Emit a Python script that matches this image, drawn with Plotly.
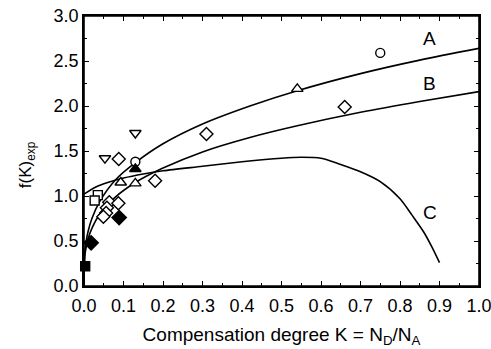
import plotly.graph_objects as go

# Model curves f(K) vs compensation degree K
k_a = [0.0, 0.002, 0.005, 0.01, 0.02, 0.04, 0.08, 0.13, 0.2, 0.3, 0.42, 0.54, 0.7, 0.85, 1.0]
f_a = [0.0, 0.36, 0.48, 0.60, 0.75, 0.94, 1.18, 1.37, 1.58, 1.80, 2.00, 2.17, 2.36, 2.51, 2.64]

k_b = [0.0, 0.002, 0.005, 0.01, 0.02, 0.04, 0.08, 0.13, 0.2, 0.3, 0.42, 0.54, 0.7, 0.85, 1.0]
f_b = [0.0, 0.33, 0.42, 0.52, 0.64, 0.80, 0.99, 1.15, 1.31, 1.49, 1.65, 1.78, 1.93, 2.05, 2.16]

k_c = [0.0, 0.03, 0.06, 0.1, 0.15, 0.2, 0.3, 0.4, 0.5, 0.55, 0.6, 0.65, 0.7, 0.75, 0.8, 0.83, 0.86, 0.88, 0.9]
f_c = [1.02, 1.10, 1.15, 1.20, 1.245, 1.28, 1.33, 1.38, 1.42, 1.43, 1.42, 1.35, 1.27, 1.16, 0.97, 0.79, 0.60, 0.44, 0.26]

# Experimental points, grouped by symbol
circ_k = [0.75, 0.13]
circ_f = [2.59, 1.38]
tri_k = [0.54, 0.093, 0.13]
tri_f = [2.19, 1.15, 1.14]
tri_fill_k = [0.13]
tri_fill_f = [1.30]
dia_k = [0.66, 0.31, 0.088, 0.18, 0.064, 0.087, 0.058, 0.056, 0.049]
dia_f = [1.99, 1.69, 1.41, 1.17, 0.93, 0.92, 0.87, 0.81, 0.77]
tdown_k = [0.13, 0.053]
tdown_f = [1.70, 1.42]
sq_k = [0.035, 0.027]
sq_f = [1.01, 0.95]
dia_fill_k = [0.089, 0.018]
dia_fill_f = [0.76, 0.48]
sq_fill_k = [0.003]
sq_fill_f = [0.22]

curve_labels = ["A", "B", "C"]
label_k = [0.875, 0.875, 0.875]
label_f = [2.75, 2.25, 0.82]

fig = go.Figure()
for kx, fy in [(k_a, f_a), (k_b, f_b), (k_c, f_c)]:
    fig.add_trace(go.Scatter(x=kx, y=fy, mode="lines", line=dict(color="black", width=1.6, shape="spline", smoothing=0.8),
                             showlegend=False, hoverinfo="skip"))

def pts(kx, fy, symbol, size=9, filled=False):
    fig.add_trace(go.Scatter(
        x=kx, y=fy, mode="markers", showlegend=False, cliponaxis=False,
        marker=dict(symbol=symbol, size=size, color="black" if filled else "white",
                    line=dict(color="black", width=1.4))))

pts(circ_k, circ_f, "circle", 9)
pts(tri_k, tri_f, "triangle-up", 10)
pts(tri_fill_k, tri_fill_f, "triangle-up", 10, True)
pts(dia_k, dia_f, "diamond", 10)
pts(tdown_k, tdown_f, "triangle-down", 10)
pts(sq_k, sq_f, "square", 9)
pts(dia_fill_k, dia_fill_f, "diamond", 11, True)
pts(sq_fill_k, sq_fill_f, "square", 9, True)

for t, kx, fy in zip(curve_labels, label_k, label_f):
    fig.add_annotation(x=kx, y=fy, text=t, showarrow=False, font=dict(size=19, color="black"))

fig.add_annotation(xref="paper", yref="paper", x=-0.145, y=0.45, xanchor="center", yanchor="middle",
                   text="f(K)<sub>exp</sub>", textangle=-90, showarrow=False,
                   font=dict(size=17, color="black"))

# frame around the plotting area
fig.add_shape(type="rect", xref="paper", yref="paper", x0=0, y0=0, x1=1, y1=1,
              line=dict(color="black", width=1.6), layer="above")

axis_common = dict(showline=True, linecolor="black", linewidth=1.5, mirror="allticks", ticks="inside",
                   ticklen=5, tickwidth=1, tickcolor="black", showgrid=False, zeroline=False,
                   automargin=False, ticklabeloverflow="allow", tickfont=dict(size=18, color="black"))

fig.update_xaxes(range=[0, 1.0], dtick=0.1, tick0=0, tickformat=".1f", ticklabelstandoff=3,
                 minor=dict(dtick=0.05, ticks="inside", ticklen=3, tickcolor="black"),
                 title=dict(text="Compensation degree K = N<sub>D</sub>/N<sub>A</sub>", font=dict(size=19, color="black"), standoff=12),
                 **axis_common)
fig.update_yaxes(range=[0, 3.0], dtick=0.5, tick0=0, tickformat=".1f",
                 minor=dict(dtick=0.25, ticks="inside", ticklen=3, tickcolor="black"),
                 **axis_common)

fig.update_layout(width=491, height=349, margin=dict(l=84, r=12, t=16, b=63),
                  paper_bgcolor="white", plot_bgcolor="white",
                  font=dict(family="Liberation Sans, Arial, sans-serif", color="black"))

fig.write_html("out.html")
